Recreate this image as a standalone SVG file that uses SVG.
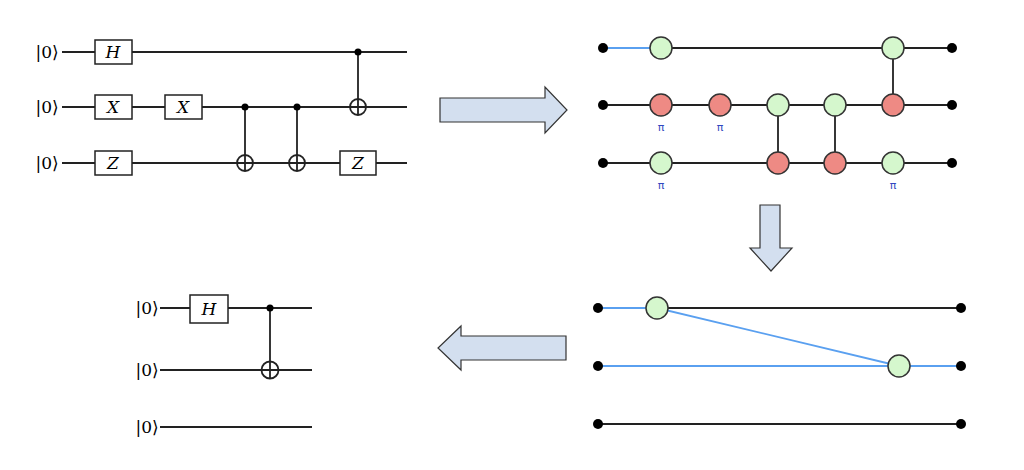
<svg xmlns="http://www.w3.org/2000/svg" width="1024" height="470" viewBox="0 0 1024 470">
<style>
.w{stroke:#222;stroke-width:1.8;fill:none}
.b{stroke:#5aa0f0;stroke-width:1.8;fill:none}
.box{fill:#fff;stroke:#222;stroke-width:1.5}
.g{fill:#d5f7cd;stroke:#333;stroke-width:1.5}
.r{fill:#ee8a84;stroke:#333;stroke-width:1.5}
.t{font-family:"DejaVu Serif",serif;font-style:italic;font-size:17px;text-anchor:middle}
.k{font-family:"DejaVu Serif",serif;font-size:17px;text-anchor:middle}
.p{font-family:"DejaVu Sans",sans-serif;font-size:11px;fill:#3048c0;text-anchor:middle}
.arr{fill:#d3dfef;stroke:#333;stroke-width:1.2}
</style>
<rect width="1024" height="470" fill="#fff"/>
<g id="connectors">
<path class="w" d="M62 52H407M62 107H407M62 163H407M245 107V171M297 107V171M358 52V115"/>
<path class="w" d="M160 308H312M160 370H312M160 427H312M270 308V378"/>
<path class="b" d="M603 48H661"/>
<path class="w" d="M661 48H952M603 105H952M603 163H952M893 48V105M778 105V163M835 105V163"/>
<path class="b" d="M598 308H657L899 366M598 366H961"/>
<path class="w" d="M657 308H961M598 424H961"/>
</g>
<g id="circuit1">
<text class="k" x="47" y="58">|0⟩</text><text class="k" x="47" y="113">|0⟩</text><text class="k" x="47" y="169">|0⟩</text>
<rect class="box" x="95" y="40" width="37" height="24"/><text class="t" x="113" y="58">H</text>
<rect class="box" x="95" y="95" width="37" height="24"/><text class="t" x="113" y="113">X</text>
<rect class="box" x="165" y="95" width="37" height="24"/><text class="t" x="183" y="113">X</text>
<rect class="box" x="95" y="151" width="37" height="24"/><text class="t" x="113" y="169">Z</text>
<rect class="box" x="340" y="151" width="36" height="24"/><text class="t" x="358" y="169">Z</text>
<circle cx="245" cy="107" r="3.5"/><circle cx="297" cy="107" r="3.5"/><circle cx="358" cy="52" r="3.5"/>
<circle class="w" cx="245" cy="163" r="8"/><path class="w" d="M237 163H253"/>
<circle class="w" cx="297" cy="163" r="8"/><path class="w" d="M289 163H305"/>
<circle class="w" cx="358" cy="107" r="8"/><path class="w" d="M350 107H366"/>
</g>
<g id="circuit2">
<text class="k" x="147" y="314">|0⟩</text><text class="k" x="147" y="376">|0⟩</text><text class="k" x="147" y="433">|0⟩</text>
<rect class="box" x="190" y="295" width="38" height="28"/><text class="t" x="209" y="315">H</text>
<circle cx="270" cy="308" r="3.5"/>
<circle class="w" cx="270" cy="370" r="8.5"/><path class="w" d="M261.5 370H278.5"/>
</g>
<g id="zx1">
<circle cx="603" cy="48" r="5"/><circle cx="603" cy="105" r="5"/><circle cx="603" cy="163" r="5"/>
<circle cx="952" cy="48" r="5"/><circle cx="952" cy="105" r="5"/><circle cx="952" cy="163" r="5"/>
<circle class="g" cx="661" cy="48" r="11"/><circle class="g" cx="893" cy="48" r="11"/>
<circle class="r" cx="661" cy="105" r="11"/><circle class="r" cx="720" cy="105" r="11"/>
<circle class="g" cx="778" cy="105" r="11"/><circle class="g" cx="835" cy="105" r="11"/><circle class="r" cx="893" cy="105" r="11"/>
<circle class="g" cx="661" cy="163" r="11"/><circle class="r" cx="778" cy="163" r="11"/><circle class="r" cx="835" cy="163" r="11"/><circle class="g" cx="893" cy="163" r="11"/>
<text class="p" x="661" y="131">π</text><text class="p" x="720" y="131">π</text><text class="p" x="661" y="189">π</text><text class="p" x="893" y="189">π</text>
</g>
<g id="zx2">
<circle cx="598" cy="308" r="5"/><circle cx="598" cy="366" r="5"/><circle cx="598" cy="424" r="5"/>
<circle cx="961" cy="308" r="5"/><circle cx="961" cy="366" r="5"/><circle cx="961" cy="424" r="5"/>
<circle class="g" cx="657" cy="308" r="11"/><circle class="g" cx="899" cy="366" r="11"/>
</g>
<g id="arrows">
<path class="arr" d="M440 98H545V87L567 110L545 133V122H440Z"/>
<path class="arr" d="M760 205H780V248H792L771 271L750 248H760Z"/>
<path class="arr" d="M566 336H461V326L438 348L461 370V360H566Z"/>
</g>
</svg>
